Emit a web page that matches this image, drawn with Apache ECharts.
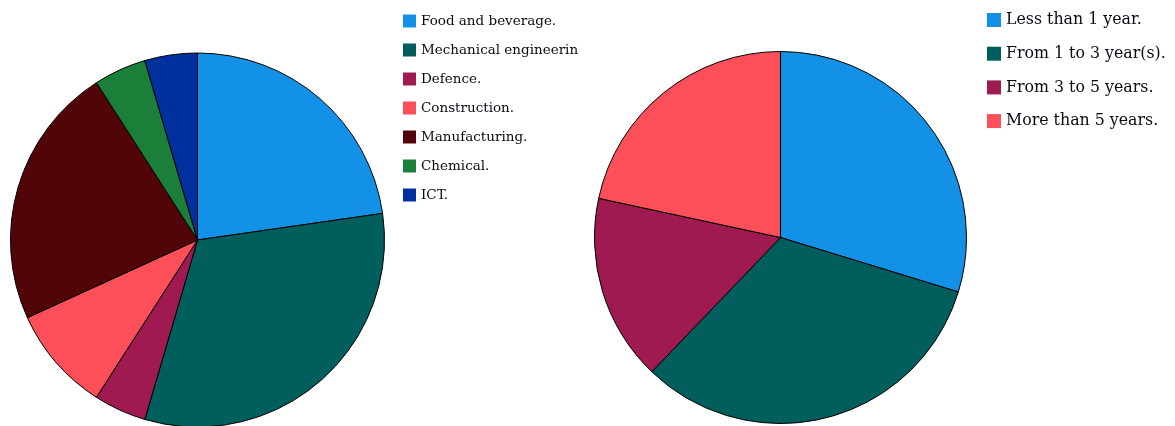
<!DOCTYPE html>
<html><head><meta charset="utf-8">
<script src="https://cdn.jsdelivr.net/npm/echarts@6/dist/echarts.min.js"></script>
<style>html,body{margin:0;padding:0;background:#fff}#c{width:1175px;height:426px}</style>
</head><body><div id="c"></div>
<script>
const sectorNames = ["Food and beverage.", "Mechanical engineering.", "Defence.", "Construction.", "Manufacturing.", "Chemical.", "ICT."];
const sectorValues = [5, 7, 1, 2, 5, 1, 1];
const sectorColors = ["#1391e6", "#005e5c", "#9e1a50", "#fc4f59", "#520508", "#1b7f3a", "#002f9e"];
const tenureNames = ["Less than 1 year.", "From 1 to 3 year(s).", "From 3 to 5 years.", "More than 5 years."];
const tenureValues = [11, 12, 6, 8];
const tenureColors = ["#1391e6", "#005e5c", "#9e1a50", "#fc4f59"];

const chart = echarts.init(document.getElementById('c'));
const font = '"DejaVu Serif", serif';
chart.setOption({
  animation: false,
  legend: [
    {
      data: sectorNames, orient: 'vertical', left: 403, top: 13, padding: 0,
      icon: 'rect', itemWidth: 13, itemHeight: 13, itemGap: 13,
      selectedMode: false,
      itemStyle: { borderWidth: 0 },
      textStyle: { fontFamily: font, fontSize: 13.5, lineHeight: 16, color: '#0a0a14', width: 166, overflow: 'truncate', ellipsis: '' }
    },
    {
      data: tenureNames, orient: 'vertical', left: 987, top: 10, padding: 0,
      icon: 'rect', itemWidth: 14, itemHeight: 14, itemGap: 13.7,
      selectedMode: false,
      itemStyle: { borderWidth: 0 },
      textStyle: { fontFamily: font, fontSize: 15.8, lineHeight: 20, color: '#0a0a14' }
    }
  ],
  series: [
    {
      type: 'pie', center: [197.5, 240], radius: 187, startAngle: 90, clockwise: true,
      label: { show: false }, labelLine: { show: false }, silent: true,
      itemStyle: { borderColor: '#000', borderWidth: 1 },
      data: sectorNames.map((n, i) => ({ name: n, value: sectorValues[i], itemStyle: { color: sectorColors[i] } }))
    },
    {
      type: 'pie', center: [780.5, 237.5], radius: 186, startAngle: 90, clockwise: true,
      label: { show: false }, labelLine: { show: false }, silent: true,
      itemStyle: { borderColor: '#000', borderWidth: 1 },
      data: tenureNames.map((n, i) => ({ name: n, value: tenureValues[i], itemStyle: { color: tenureColors[i] } }))
    }
  ]
});
</script></body></html>
